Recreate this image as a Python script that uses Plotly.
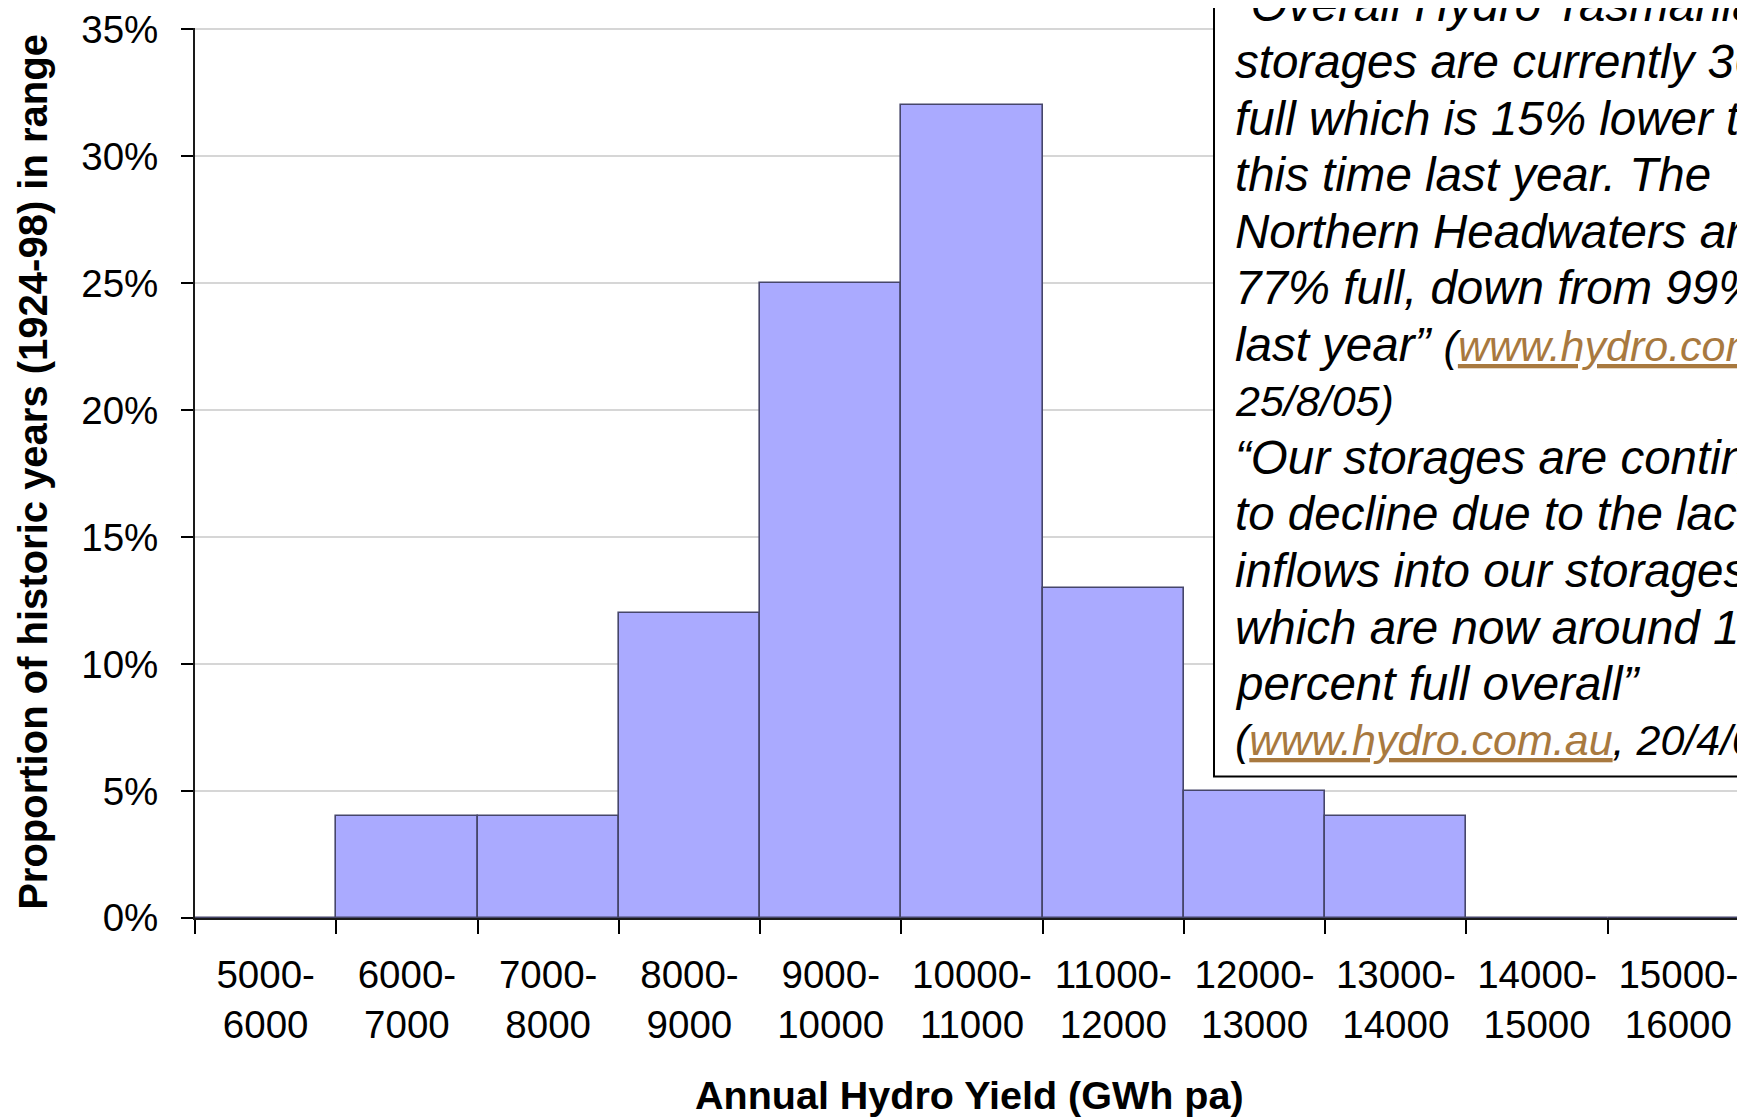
import plotly.graph_objects as go

# ---- data ----
categories = ["5000-<br>6000", "6000-<br>7000", "7000-<br>8000", "8000-<br>9000",
              "9000-<br>10000", "10000-<br>11000", "11000-<br>12000", "12000-<br>13000",
              "13000-<br>14000", "14000-<br>15000", "15000-<br>16000"]
proportion_pct = [0, 4, 4, 12, 25, 32, 13, 5, 4, 0, 0]
y_tick_vals = [0, 5, 10, 15, 20, 25, 30, 35]
y_tick_text = ["0%", "5%", "10%", "15%", "20%", "25%", "30%", "35%"]

x_title = "Annual Hydro Yield (GWh pa)"
y_title = "Proportion of historic years (1924-98) in range"

CITE = "<span style='font-size:43px'>{}</span>"
LINK = "<span style='color:#A8793F;text-decoration:underline'>www.hydro.com.au</span>"
quote_lines = [
    "“Overall Hydro Tasmania",
    "storages are currently 36%",
    "full which is 15% lower than",
    "this time last year. The",
    "Northern Headwaters are",
    "77% full, down from 99%",
    "last year” " + CITE.format("(" + LINK + ","),
    CITE.format("25/8/05)"),
    "“Our storages are continuing",
    "to decline due to the lack of",
    "inflows into our storages",
    "which are now around 17",
    "percent full overall”",
    CITE.format("(" + LINK + ", 20/4/07)"),
]

# ---- layout geometry ----
# page body has an 8px margin, so the figure is offset by (8, 8) in the window
OFF = 8
WIN_W, WIN_H = 1745, 1117
W, H = WIN_W - OFF, WIN_H - OFF
Y_MAX = 35.05
# plot area in window pixels (y=35 at ~25.6, y=0 at 918)
PL, PR, PT, PB = 195, 1745, 24.3, 918
L = PL - OFF
T = PT - OFF
R = 0
B = H - (PB - OFF)
plot_w = W - L - R
plot_h = H - T - B

def px_x(px):  # window px -> paper
    return (px - OFF - L) / plot_w

def px_y(py):  # window px -> paper
    return (H - B - (py - OFF)) / plot_h

FONT = "Liberation Sans, Arial, sans-serif"

fig = go.Figure()
fig.add_trace(go.Bar(
    x=categories, y=proportion_pct,
    marker=dict(color="#AAAAFF", line=dict(color="#46466A", width=1.6)),
    hoverinfo="skip",
))

fig.update_layout(
    width=W, height=H,
    margin=dict(l=L, r=R, t=T, b=B, pad=0),
    paper_bgcolor="white", plot_bgcolor="white",
    bargap=0, showlegend=False,
    font=dict(family=FONT, color="black"),
)

fig.update_xaxes(
    type="category",
    range=[-0.5, 10.5 - 4 / 141.3],
    tickson="boundaries",
    ticks="outside", ticklen=14, tickwidth=1.5, tickcolor="black",
    showline=True, linecolor="#1a1a1a", linewidth=2,
    showgrid=False, zeroline=False,
    tickfont=dict(family=FONT, size=38.5, color="black"),
    ticklabelstandoff=22,
)
fig.update_yaxes(
    range=[0, Y_MAX], tickvals=y_tick_vals, ticktext=y_tick_text,
    ticks="outside", ticklen=12, tickwidth=1.5, tickcolor="black",
    showline=True, linecolor="#1a1a1a", linewidth=2,
    showgrid=True, gridcolor="#D6D6D6", gridwidth=1.5,
    zeroline=False,
    tickfont=dict(family=FONT, size=38.5, color="black"),
    ticklabelstandoff=15,
    ticklabeloverflow="allow",
)

# quote box
fig.add_shape(
    type="rect", xref="paper", yref="paper",
    x0=px_x(1214), x1=px_x(2400), y0=px_y(776), y1=px_y(-300),
    line=dict(color="black", width=2), fillcolor="white", layer="above",
)

QFONT = 47.5
LAST_BASELINE = 756
LINE_STEP = 56.8
n = len(quote_lines)
for k, line in enumerate(quote_lines):
    baseline = LAST_BASELINE - LINE_STEP * (n - 1 - k)
    center = baseline - 0.347 * QFONT
    fig.add_annotation(
        text=line,
        xref="paper", yref="paper",
        x=px_x(1233), y=px_y(center),
        xanchor="left", yanchor="middle", align="left",
        showarrow=False,
        font=dict(family=FONT, size=QFONT, color="black", style="italic"),
    )

# axis titles
fig.add_annotation(
    text="<b>" + x_title + "</b>", xref="paper", yref="paper",
    x=px_x(969), y=px_y(1096), xanchor="center", yanchor="middle",
    showarrow=False, font=dict(family=FONT, size=39.5, color="black"),
)
fig.add_annotation(
    text="<b>" + y_title + "</b>", xref="paper", yref="paper",
    x=px_x(33), y=px_y(470), xanchor="center", yanchor="middle",
    textangle=-90, showarrow=False,
    font=dict(family=FONT, size=40, color="black"),
)

fig.write_html("out.html")
